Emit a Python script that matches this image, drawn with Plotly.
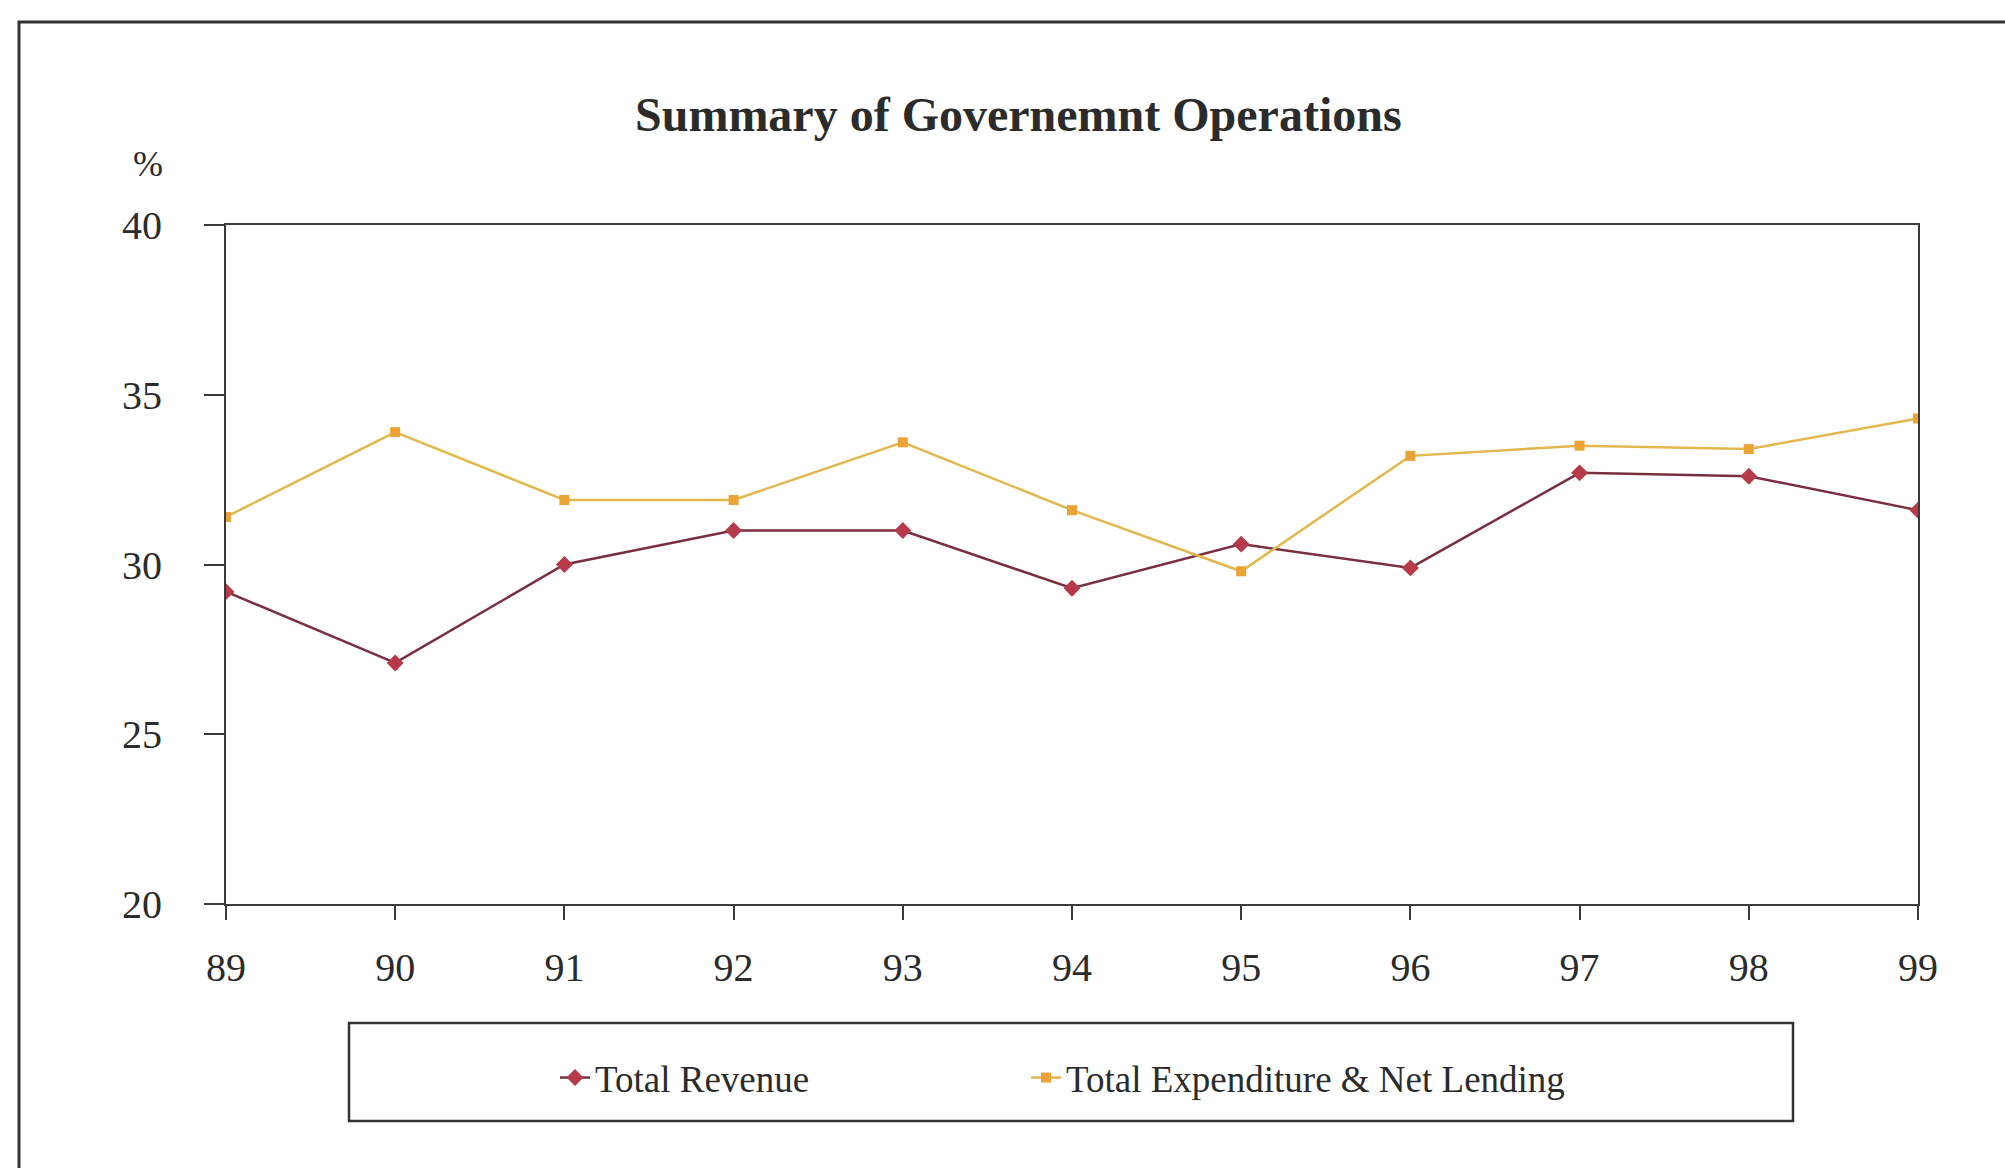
import plotly.graph_objects as go

# Fiscal years (two-digit labels) and shares, in percent
years = ["89", "90", "91", "92", "93", "94", "95", "96", "97", "98", "99"]
total_revenue = [29.2, 27.1, 30.0, 31.0, 31.0, 29.3, 30.6, 29.9, 32.7, 32.6, 31.6]
total_expenditure = [31.4, 33.9, 31.9, 31.9, 33.6, 31.6, 29.8, 33.2, 33.5, 33.4, 34.3]
y_ticks = [20, 25, 30, 35, 40]

W, H = 2005, 1168
L, R, T, B = 226, 1918, 225, 904  # plot area in pixels
pw, ph = R - L, B - T


def px(x):
    return (x - L) / pw


def py(y):
    return (B - y) / ph


FONT = "Liberation Serif, Times New Roman, serif"
TXT = "#2b2b2b"
AX = "#3a3a3a"

fig = go.Figure()
fig.add_trace(go.Scatter(
    x=years, y=total_revenue, name="Total Revenue", mode="lines+markers",
    line=dict(color="#7a2f40", width=2.5),
    marker=dict(symbol="diamond", size=13, color="#b63a4a", line=dict(width=0)),
    legend="legend",
))
fig.add_trace(go.Scatter(
    x=years, y=total_expenditure, name="Total Expenditure & Net Lending",
    mode="lines+markers",
    line=dict(color="#e2b84e", width=2.5),
    marker=dict(symbol="square", size=10, color="#eaa334", line=dict(width=0)),
    legend="legend2",
))

legend_style = dict(
    orientation="h", yanchor="middle", xanchor="left",
    bgcolor="rgba(0,0,0,0)", borderwidth=0,
    font=dict(family=FONT, size=37, color=TXT),
)

fig.update_layout(
    width=W, height=H,
    margin=dict(l=L, r=W - R, t=T, b=H - B, pad=0),
    paper_bgcolor="white", plot_bgcolor="white",
    font=dict(family=FONT, color=TXT, size=40),
    showlegend=True,
    legend=dict(x=px(555), y=py(1078), **legend_style),
    legend2=dict(x=px(1026), y=py(1078), **legend_style),
    xaxis=dict(
        type="category", range=[0, len(years) - 1],
        showgrid=False, zeroline=False,
        showline=True, linecolor=AX, linewidth=2, mirror=True,
        ticks="outside", ticklen=14, tickwidth=2, tickcolor=AX,
        ticklabelstandoff=13,
        tickfont=dict(family=FONT, size=40, color=TXT),
    ),
    yaxis=dict(
        range=[20, 40], tickvals=y_ticks,
        showgrid=False, zeroline=False,
        showline=True, linecolor=AX, linewidth=2, mirror=True,
        ticks="outside", ticklen=20, tickwidth=2, tickcolor=AX,
        ticklabelstandoff=34,
        tickfont=dict(family=FONT, size=40, color=TXT),
    ),
)

# Chart title and unit label
fig.add_annotation(
    text="<b>Summary of Governemnt Operations</b>", xref="paper", yref="paper",
    x=px(1018), y=py(115), xanchor="center", yanchor="middle", showarrow=False,
    font=dict(family=FONT, size=48, color=TXT),
)
fig.add_annotation(
    text="%", xref="paper", yref="paper", x=px(148), y=py(164),
    xanchor="center", yanchor="middle", showarrow=False,
    font=dict(family=FONT, size=36, color=TXT),
)

# Outer frame (runs off the right and bottom edges) and legend box
fig.add_shape(type="rect", xref="paper", yref="paper",
              x0=px(19), x1=px(2030), y0=py(1200), y1=py(22),
              line=dict(color="#333333", width=3), layer="below")
fig.add_shape(type="rect", xref="paper", yref="paper",
              x0=px(349), x1=px(1793), y0=py(1121), y1=py(1023),
              line=dict(color="#333333", width=2.5), layer="below")

fig.write_html("out.html")
